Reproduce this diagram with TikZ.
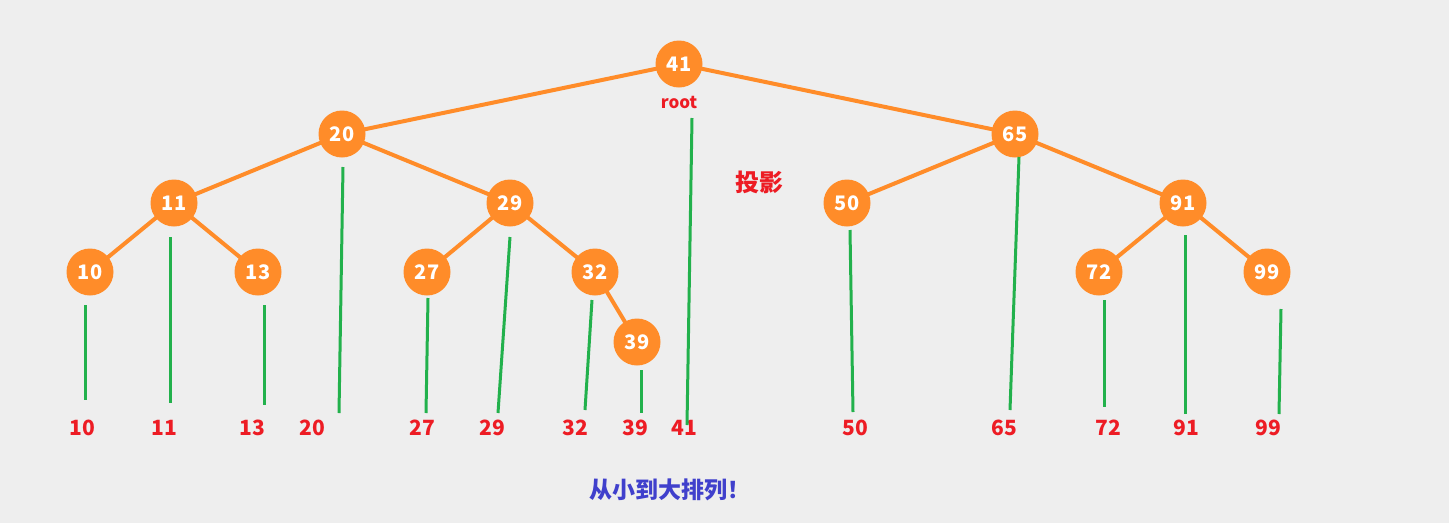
\documentclass[tikz,border=0pt]{standalone}
\usepackage{fontspec}
\setmainfont{Noto Sans CJK SC}
\newfontfamily\cjk{Noto Sans CJK SC}
\definecolor{bg}{HTML}{EEEEEE}
\definecolor{orng}{HTML}{FF8C29}
\definecolor{grn}{HTML}{22B14C}
\definecolor{rd}{HTML}{ED1C24}
\definecolor{blu}{HTML}{4040CC}
\begin{document}
\begin{tikzpicture}[x=1pt,y=-1pt,
  tnode/.style={circle, fill=orng, minimum size=47pt, inner sep=0pt, text=white, font=\bfseries\fontsize{20}{20}\selectfont},
  edge/.style={orng, line width=4pt},
  proj/.style={grn, line width=3pt},
  lbl/.style={text=rd, font=\bfseries\fontsize{21}{21}\selectfont, inner sep=0pt}]
\fill[bg] (0,0) rectangle (1449,523);
\useasboundingbox (0,0) rectangle (1449,523);
% edges first (nodes drawn on top)
\coordinate (c41) at (679,64);
\coordinate (c20) at (342,134);
\coordinate (c65) at (1015,134);
\coordinate (c11) at (174,203);
\coordinate (c29) at (510,203);
\coordinate (c50) at (847,203);
\coordinate (c91) at (1183,203);
\coordinate (c10) at (90,272);
\coordinate (c13) at (258,272);
\coordinate (c27) at (427,272);
\coordinate (c32) at (595,272);
\coordinate (c72) at (1099,272);
\coordinate (c99) at (1267,272);
\coordinate (c39) at (637,342);
\draw[edge] (c41) -- (c20);
\draw[edge] (c41) -- (c65);
\draw[edge] (c20) -- (c11);
\draw[edge] (c20) -- (c29);
\draw[edge] (c11) -- (c10);
\draw[edge] (c11) -- (c13);
\draw[edge] (c29) -- (c27);
\draw[edge] (c29) -- (c32);
\draw[edge] (c32) -- (c39);
\draw[edge] (c65) -- (c50);
\draw[edge] (c65) -- (c91);
\draw[edge] (c91) -- (c72);
\draw[edge] (c91) -- (c99);
% tree nodes
\node[tnode] (n41) at (c41) {41};
\node[tnode] (n20) at (c20) {20};
\node[tnode] (n65) at (c65) {65};
\node[tnode] (n11) at (c11) {11};
\node[tnode] (n29) at (c29) {29};
\node[tnode] (n50) at (c50) {50};
\node[tnode] (n91) at (c91) {91};
\node[tnode] (n10) at (c10) {10};
\node[tnode] (n13) at (c13) {13};
\node[tnode] (n27) at (c27) {27};
\node[tnode] (n32) at (c32) {32};
\node[tnode] (n72) at (c72) {72};
\node[tnode] (n99) at (c99) {99};
\node[tnode] (n39) at (c39) {39};
\node[text=rd, font=\bfseries\fontsize{17}{17}\selectfont] (root) at (679,102) {root};
\node[text=rd, font=\cjk\bfseries\fontsize{24}{24}\selectfont] (proj) at (759,182) {投影};
\node[text=blu, font=\cjk\bfseries\fontsize{23}{23}\selectfont] (sort) at (670,490) {从小到大排列！};
% projection labels
\node[lbl] (l10) at (82,428) {10};
\node[lbl] (l11) at (164,428) {11};
\node[lbl] (l13) at (252,428) {13};
\node[lbl] (l20) at (312,428) {20};
\node[lbl] (l27) at (422,428) {27};
\node[lbl] (l29) at (492,428) {29};
\node[lbl] (l32) at (575,428) {32};
\node[lbl] (l39) at (635,428) {39};
\node[lbl] (l41) at (684,428) {41};
\node[lbl] (l50) at (855,428) {50};
\node[lbl] (l65) at (1004,428) {65};
\node[lbl] (l72) at (1108,428) {72};
\node[lbl] (l91) at (1186,428) {91};
\node[lbl] (l99) at (1268,428) {99};
% projection lines
\coordinate (g10a) at (85,305);   \coordinate (g10b) at (85,400);
\coordinate (g11a) at (170,237);  \coordinate (g11b) at (170,403);
\coordinate (g13a) at (264,305);  \coordinate (g13b) at (264,405);
\coordinate (g20a) at (343,167);  \coordinate (g20b) at (339,413);
\coordinate (g27a) at (428,298);  \coordinate (g27b) at (426,413);
\coordinate (g29a) at (510,237);  \coordinate (g29b) at (498,413);
\coordinate (g32a) at (592,300);  \coordinate (g32b) at (585,410);
\coordinate (g39a) at (641,370);  \coordinate (g39b) at (641,413);
\coordinate (g41a) at (692,118);  \coordinate (g41b) at (687,425);
\coordinate (g50a) at (850,230);  \coordinate (g50b) at (853,412);
\coordinate (g65a) at (1019,157); \coordinate (g65b) at (1010,410);
\coordinate (g72a) at (1104,300); \coordinate (g72b) at (1104,407);
\coordinate (g91a) at (1185,235); \coordinate (g91b) at (1185,414);
\coordinate (g99a) at (1281,309); \coordinate (g99b) at (1279,414);
\foreach \k in {10,11,13,20,27,29,32,39,41,50,65,72,91,99}
  \draw[proj] (g\k a) -- (g\k b);
\end{tikzpicture}
\end{document}
